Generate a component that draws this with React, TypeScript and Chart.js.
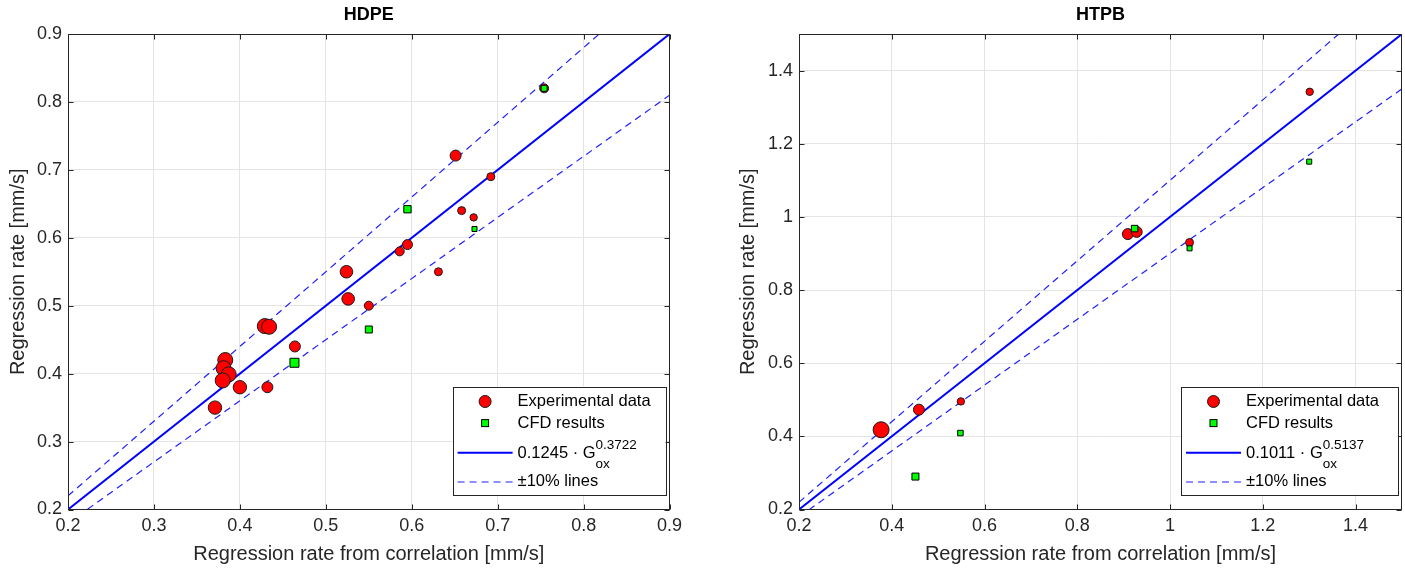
import React, { useEffect, useRef } from 'react';
import { Chart, registerables } from 'chart.js';

Chart.register(...registerables);

// ---------------- HDPE ----------------
const hdpeExpX = [0.754, 0.651, 0.692, 0.658, 0.672, 0.595, 0.586, 0.631, 0.524, 0.526, 0.55, 0.429, 0.434, 0.464, 0.383, 0.381, 0.387, 0.38, 0.4, 0.432, 0.371];
const hdpeExpY = [0.82, 0.721, 0.69, 0.64, 0.63, 0.59, 0.58, 0.55, 0.55, 0.51, 0.5, 0.47, 0.469, 0.44, 0.42, 0.408, 0.399, 0.39, 0.38, 0.38, 0.35];
const hdpeExpSize = [4.5, 5.5, 4, 4, 3.7, 5, 4.5, 4, 6.3, 6.3, 4.5, 7.5, 7.5, 5.5, 7.5, 7.5, 7.5, 7.5, 6.7, 5.5, 6.7];
const hdpeCfdX = [0.754, 0.595, 0.673, 0.55, 0.4635];
const hdpeCfdY = [0.82, 0.642, 0.613, 0.465, 0.416];
const hdpeCfdSize = [6, 7.3, 5, 7, 9];
const hdpeLimits = [0.2, 0.9];
const hdpeTicks = [0.2, 0.3, 0.4, 0.5, 0.6, 0.7, 0.8, 0.9];
const hdpeTickLabels = ['0.2', '0.3', '0.4', '0.5', '0.6', '0.7', '0.8', '0.9'];
const hdpeCoef = '0.1245';
const hdpeExp = '0.3722';

// ---------------- HTPB ----------------
const htpbExpX = [0.377, 0.4585, 0.549, 0.909, 0.928, 1.042, 1.301];
const htpbExpY = [0.418, 0.473, 0.4955, 0.953, 0.959, 0.93, 1.342];
const htpbExpSize = [8, 5.5, 3.7, 5.5, 5.5, 4, 3.7];
const htpbCfdX = [0.451, 0.548, 0.9235, 1.042, 1.3];
const htpbCfdY = [0.29, 0.409, 0.968, 0.914, 1.151];
const htpbCfdSize = [7, 5.5, 6.5, 5, 5];
const htpbLimits = [0.2, 1.5];
const htpbTicks = [0.2, 0.4, 0.6, 0.8, 1.0, 1.2, 1.4];
const htpbTickLabels = ['0.2', '0.4', '0.6', '0.8', '1', '1.2', '1.4'];
const htpbCoef = '0.1011';
const htpbExp = '0.5137';

const bandFactors = [1.1, 0.9];

const FONT = '"Liberation Sans", Arial, Helvetica, sans-serif';
const TXT = '#262626';

type Panel = {
  title: string;
  expX: number[]; expY: number[]; expSize: number[];
  cfdX: number[]; cfdY: number[]; cfdSize: number[];
  limits: number[]; ticks: number[]; tickLabels: string[];
  coef: string; exp: string;
  left: number; width: number; yAxisWidth: number; padRight: number; legendWidth: number;
};

const panels: Panel[] = [
  { title: 'HDPE', expX: hdpeExpX, expY: hdpeExpY, expSize: hdpeExpSize, cfdX: hdpeCfdX, cfdY: hdpeCfdY, cfdSize: hdpeCfdSize,
    limits: hdpeLimits, ticks: hdpeTicks, tickLabels: hdpeTickLabels, coef: hdpeCoef, exp: hdpeExp,
    left: 0, width: 700, yAxisWidth: 68, padRight: 30.4, legendWidth: 213 },
  { title: 'HTPB', expX: htpbExpX, expY: htpbExpY, expSize: htpbExpSize, cfdX: htpbCfdX, cfdY: htpbCfdY, cfdSize: htpbCfdSize,
    limits: htpbLimits, ticks: htpbTicks, tickLabels: htpbTickLabels, coef: htpbCoef, exp: htpbExp,
    left: 730, width: 675, yAxisWidth: 69, padRight: 3, legendWidth: 217 },
];

function makeDecor(p: Panel) {
  return {
    id: 'decor',
    afterDraw(chart: any) {
      const { ctx, chartArea: a, scales } = chart;
      ctx.save();
      // box
      ctx.strokeStyle = '#262626';
      ctx.lineWidth = 1;
      const L = Math.round(a.left) + 0.5, R = Math.round(a.right) - 0.5, T = Math.round(a.top) + 0.5, B = Math.round(a.bottom) - 0.5;
      ctx.strokeRect(L, T, R - L, B - T);
      // inward ticks
      ctx.beginPath();
      for (const v of p.ticks) {
        const px = Math.round(scales.x.getPixelForValue(v)) + 0.5;
        ctx.moveTo(px, B); ctx.lineTo(px, B - 5);
        ctx.moveTo(px, T); ctx.lineTo(px, T + 5);
        const py = Math.round(scales.y.getPixelForValue(v)) + 0.5;
        ctx.moveTo(L, py); ctx.lineTo(L + 5, py);
        ctx.moveTo(R, py); ctx.lineTo(R - 5, py);
      }
      ctx.stroke();
      // title
      ctx.fillStyle = '#000';
      ctx.font = `bold 18px ${FONT}`;
      ctx.textAlign = 'center';
      ctx.textBaseline = 'middle';
      ctx.fillText(p.title, (a.left + a.right) / 2, 15);

      // legend
      const w = p.legendWidth, h = 108;
      const lx = a.right - 4 - w, ly = a.bottom - 15 - h;
      ctx.fillStyle = '#fff';
      ctx.fillRect(lx, ly, w, h);
      ctx.strokeStyle = '#262626';
      ctx.lineWidth = 1;
      ctx.strokeRect(Math.round(lx) + 0.5, Math.round(ly) + 0.5, Math.round(w), Math.round(h));
      const mx = lx + 32.5;
      const tx = lx + 65;
      const r1 = ly + 15, r2 = ly + 36.6, r3 = ly + 66.3, r4 = ly + 95;
      // experimental marker
      ctx.beginPath();
      ctx.arc(mx, r1, 6, 0, Math.PI * 2);
      ctx.fillStyle = '#ff0000'; ctx.fill();
      ctx.strokeStyle = '#1a1a1a'; ctx.stroke();
      // cfd marker
      ctx.fillStyle = '#00ff00';
      ctx.fillRect(mx - 3.5, r2 - 3.5, 7, 7);
      ctx.strokeStyle = '#000';
      ctx.strokeRect(mx - 3.5, r2 - 3.5, 7, 7);
      // fit line
      ctx.beginPath();
      ctx.strokeStyle = '#0000ff'; ctx.lineWidth = 2;
      ctx.moveTo(lx + 5, r3); ctx.lineTo(lx + 60, r3); ctx.stroke();
      // dashed
      ctx.beginPath();
      ctx.lineWidth = 1.2; ctx.strokeStyle = '#1f1fff';
      ctx.setLineDash([7, 5]);
      ctx.moveTo(lx + 5, r4 + 0.5); ctx.lineTo(lx + 60, r4 + 0.5); ctx.stroke();
      ctx.setLineDash([]);
      // texts
      ctx.fillStyle = '#000';
      ctx.textAlign = 'left';
      ctx.textBaseline = 'middle';
      ctx.font = `16.5px ${FONT}`;
      ctx.fillText('Experimental data', tx, r1);
      ctx.fillText('CFD results', tx, r2);
      ctx.fillText('±10% lines', tx, r4);
      const main = `${p.coef} · G`;
      ctx.fillText(main, tx, r3 + 1);
      const mw = ctx.measureText(main).width;
      ctx.font = `13.5px ${FONT}`;
      ctx.fillText(p.exp, tx + mw, r3 - 8);
      ctx.fillText('ox', tx + mw, r3 + 11);
      ctx.restore();
    },
  };
}

function makeConfig(p: Panel): any {
  const expData = p.expX.map((x, i) => ({ x, y: p.expY[i] }));
  const cfdData = p.cfdX.map((x, i) => ({ x, y: p.cfdY[i] }));
  const fitData = p.limits.map((v) => ({ x: v, y: v }));
  const tickFont = { family: FONT, size: 18 };
  const titleFont = { family: FONT, size: 20 };
  const labelFor = (v: number) => {
    const i = p.ticks.findIndex((t) => Math.abs(t - v) < 1e-9);
    return i >= 0 ? p.tickLabels[i] : '';
  };
  return {
    type: 'scatter',
    data: {
      datasets: [
        {
          type: 'scatter', label: 'CFD results', data: cfdData, pointStyle: 'rect',
          pointRadius: p.cfdSize.map((s) => s * Math.SQRT1_2),
          backgroundColor: '#00ff00', borderColor: '#000', borderWidth: 1, order: 0,
        },
        {
          type: 'scatter', label: 'Experimental data', data: expData, pointStyle: 'circle',
          pointRadius: p.expSize, backgroundColor: '#ff0000', borderColor: '#1a1a1a', borderWidth: 1, order: 1,
        },
        {
          type: 'line', label: 'fit', data: fitData, borderColor: '#0000ff', borderWidth: 2,
          pointRadius: 0, fill: false, order: 2,
        },
        ...bandFactors.map((f) => ({
          type: 'line', label: `${f}`, data: p.limits.map((v) => ({ x: v, y: v * f })),
          borderColor: '#1f1fff', borderWidth: 1.2, borderDash: [7, 5], pointRadius: 0, fill: false, order: 3,
        })),
      ],
    },
    options: {
      responsive: false,
      animation: false,
      events: [],
      layout: { padding: { top: 34, right: p.padRight, left: 0, bottom: 0 }, autoPadding: false },
      plugins: { legend: { display: false }, title: { display: false }, tooltip: { enabled: false } },
      scales: {
        x: {
          type: 'linear', min: p.limits[0], max: p.limits[1],
          afterBuildTicks: (s: any) => { s.ticks = p.ticks.map((v) => ({ value: v })); },
          afterFit: (s: any) => { s.height = 59.5; },
          ticks: { callback: (v: number) => labelFor(v), font: tickFont, color: TXT, padding: 6, maxRotation: 0, autoSkip: false },
          grid: { color: '#e4e4e4', drawTicks: false, lineWidth: 1 },
          border: { display: false },
          title: { display: true, text: 'Regression rate from correlation [mm/s]', font: titleFont, color: TXT, padding: { top: 0, bottom: 3 } },
        },
        y: {
          type: 'linear', min: p.limits[0], max: p.limits[1],
          afterBuildTicks: (s: any) => { s.ticks = p.ticks.map((v) => ({ value: v })); },
          afterFit: (s: any) => { s.width = p.yAxisWidth; },
          ticks: { callback: (v: number) => labelFor(v), font: tickFont, color: TXT, padding: 6, autoSkip: false },
          grid: { color: '#e4e4e4', drawTicks: false, lineWidth: 1 },
          border: { display: false },
          title: { display: true, text: 'Regression rate [mm/s]', font: titleFont, color: TXT, padding: { top: 6, bottom: 0 } },
        },
      },
    },
    plugins: [makeDecor(p)],
  };
}

function PanelChart({ p }: { p: Panel }) {
  const ref = useRef<HTMLCanvasElement | null>(null);
  useEffect(() => {
    if (!ref.current) return;
    const chart = new Chart(ref.current, makeConfig(p));
    return () => chart.destroy();
  }, [p]);
  return (
    <canvas
      ref={ref}
      width={p.width}
      height={569}
      style={{ position: 'absolute', left: p.left, top: 0, width: p.width, height: 569 }}
    />
  );
}

export default function App() {
  return (
    <div style={{ position: 'absolute', left: 0, top: 0, width: 1405, height: 569, background: '#fff', overflow: 'hidden' }}>
      {panels.map((p) => (
        <PanelChart key={p.title} p={p} />
      ))}
    </div>
  );
}
